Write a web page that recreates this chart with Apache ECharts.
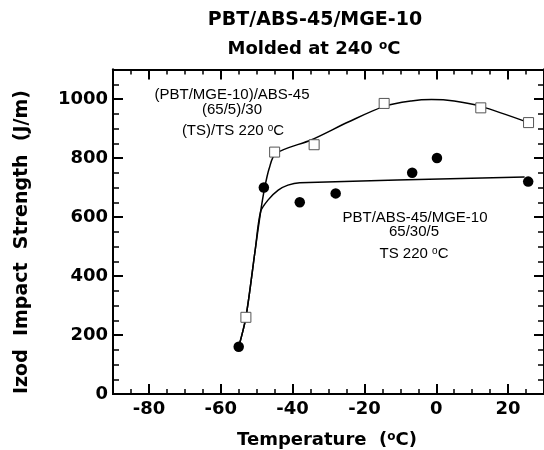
<!DOCTYPE html>
<html><head><meta charset="utf-8">
<script src="https://cdn.jsdelivr.net/npm/echarts@6/dist/echarts.min.js"></script>
<style>html,body{margin:0;padding:0;background:#fff}#c{width:544px;height:450px}</style>
</head><body><div id="c"></div>
<script>
// ---- data ----
const xTickValues = [-80, -60, -40, -20, 0, 20];
const yTickValues = [0, 200, 400, 600, 800, 1000];
// open squares: (PBT/MGE-10)/ABS-45 (65/5)/30
const squareTemps  = [-53, -45, -34, -14.5, 12.4, 25.7];
const squareValues = [260, 820, 845, 985, 970, 920];
// filled circles: PBT/ABS-45/MGE-10 65/30/5
const circleTemps  = [-55, -48, -38, -28, -6.7, 0.2, 25.6];
const circleValues = [160, 700, 650, 680, 750, 800, 720];
// hand-drawn trend curves
const upperCurveTemps  = [-55, -53, -50.4, -48.9, -47.8, -46.5, -44.7, -34.7, -24.5, -14.5, -7, -1.3, 5, 12.4, 25.7];
const upperCurveValues = [160, 260, 489, 618, 697, 765, 815, 862, 922, 975, 993, 998, 993, 975, 920];
const lowerCurveTemps  = [-55, -53, -50.4, -48.9, -46.8, -44, -41.3, -38, 24.6];
const lowerCurveValues = [160, 260, 489, 618, 658, 691, 708, 716, 736];

const zip = (a, b) => a.map((v, i) => [v, b[i]]);

const BOLD = 'DejaVu Sans';
const REG = 'Liberation Sans';
const LINE = { color: '#000', width: 2 };

function axisBase(extra) {
  return Object.assign({
    type: 'value',
    axisLine: { show: true, onZero: false, lineStyle: LINE },
    splitLine: { show: false },
    axisLabel: { show: false }
  }, extra);
}
function ticks(len, w, custom) {
  const t = { show: true, inside: true, length: len, lineStyle: { color: '#000', width: w } };
  if (custom) t.customValues = custom;
  return t;
}

const xAxes = [
  axisBase({ position: 'bottom', min: -90, max: 30,
    axisTick: ticks(10, 2, xTickValues),
    axisLabel: { show: true, customValues: xTickValues, formatter: v => String(v), margin: 6, color: '#000', fontFamily: BOLD, fontWeight: 'bold', fontSize: 18 } }),
  axisBase({ position: 'bottom', min: -90, max: 30, interval: 5, axisTick: ticks(5, 1.5) }),
  axisBase({ position: 'top', min: -90, max: 30, axisTick: ticks(10, 2, xTickValues) }),
  axisBase({ position: 'top', min: -90, max: 30, interval: 5, axisTick: ticks(5, 1.5) })
];
const yAxes = [
  axisBase({ position: 'left', min: 0, max: 1100,
    axisTick: ticks(10, 2, yTickValues),
    axisLabel: { show: true, customValues: yTickValues, formatter: v => String(v), margin: 5, color: '#000', fontFamily: BOLD, fontWeight: 'bold', fontSize: 18 } }),
  axisBase({ position: 'left', min: 0, max: 1100, interval: 50, axisTick: ticks(6, 1.5) }),
  axisBase({ position: 'right', min: 0, max: 1100, axisTick: ticks(10, 2, yTickValues) }),
  axisBase({ position: 'right', min: 0, max: 1100, interval: 50, axisTick: ticks(6, 1.5) })
];

function supText(parts, size, weight, family, supSize) {
  return {
    text: parts.map((p, i) => i % 2 === 0 ? '{n|' + p + '}' : '{s|' + p + '}').join(''),
    rich: {
      n: { fontSize: size, fontWeight: weight, fontFamily: family, fill: '#000' },
      s: { fontSize: supSize, fontWeight: weight, fontFamily: family, fill: '#000', verticalAlign: 'top' }
    }
  };
}
function textEl(x, y, style, rotation) {
  return {
    type: 'text', x: x, y: y, rotation: rotation || 0, z: 100,
    style: Object.assign({ align: 'center', verticalAlign: 'middle', fill: '#000' }, style)
  };
}

const graphics = [
  textEl(315, 20, { text: 'PBT/ABS-45/MGE-10', fontSize: 19, fontWeight: 'bold', fontFamily: BOLD }),
  textEl(314, 49, supText(['Molded at 240 ', 'o', 'C'], 18, 'bold', BOLD, 12)),
  textEl(327, 440, supText(['Temperature  (', 'o', 'C)'], 18, 'bold', BOLD, 12)),
  textEl(22, 242, { text: 'Izod  Impact  Strength  (J/m)', fontSize: 19, fontWeight: 'bold', fontFamily: BOLD }, Math.PI / 2),
  textEl(232, 94.5, { text: '(PBT/MGE-10)/ABS-45', fontSize: 15, fontFamily: REG }),
  textEl(232, 109.5, { text: '(65/5)/30', fontSize: 15, fontFamily: REG }),
  textEl(233, 131, supText(['(TS)/TS 220 ', 'o', 'C'], 15, 'normal', REG, 10)),
  textEl(415, 218, { text: 'PBT/ABS-45/MGE-10', fontSize: 15, fontFamily: REG }),
  textEl(414, 232, { text: '65/30/5', fontSize: 15, fontFamily: REG }),
  textEl(414, 253.5, supText(['TS 220 ', 'o', 'C'], 15, 'normal', REG, 10))
];

const chart = echarts.init(document.getElementById('c'), null, { renderer: 'canvas' });
chart.setOption({
  animation: false,
  backgroundColor: '#fff',
  grid: { left: 113, right: 0, top: 69.5, bottom: 56, containLabel: false },
  xAxis: xAxes,
  yAxis: yAxes,
  series: [
    { type: 'line', data: zip(upperCurveTemps, upperCurveValues), showSymbol: false, symbol: 'none',
      smooth: 0.3, lineStyle: { color: '#000', width: 1.5 }, z: 2, silent: true },
    { type: 'line', data: zip(lowerCurveTemps, lowerCurveValues), showSymbol: false, symbol: 'none',
      smooth: 0.3, lineStyle: { color: '#000', width: 1.5 }, z: 2, silent: true },
    { type: 'scatter', data: zip(squareTemps, squareValues), symbol: 'rect', symbolSize: 10,
      itemStyle: { color: '#fff', borderColor: '#555', borderWidth: 1, opacity: 1 }, z: 5 },
    { type: 'scatter', data: zip(circleTemps, circleValues), symbol: 'circle', symbolSize: 10.5,
      itemStyle: { color: '#000', opacity: 1 }, z: 5 }
  ],
  graphic: graphics
});
</script>
</body></html>
